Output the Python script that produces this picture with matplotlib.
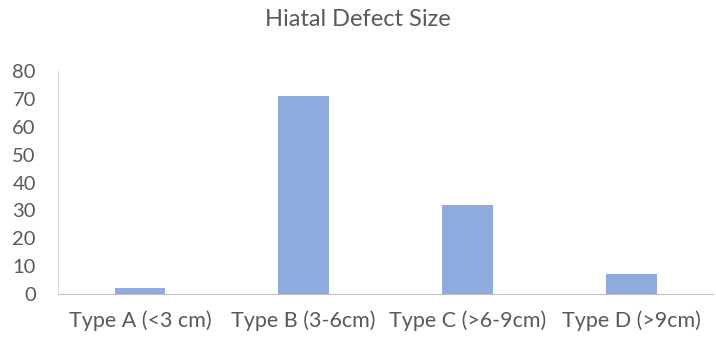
import matplotlib.pyplot as plt

categories = ['Type A (<3 cm)', 'Type B (3-6cm)', 'Type C (>6-9cm)', 'Type D (>9cm)']
values = [2, 71, 32, 7]
y_ticks = [0, 10, 20, 30, 40, 50, 60, 70, 80]

plt.rcParams['font.family'] = ['Lato', 'DejaVu Sans']
text_color = '#595959'

fig = plt.figure(figsize=(7.16, 3.45), dpi=100)
ax = fig.add_axes([0.081, 0.148, 0.915, 0.646])

ax.bar(range(len(categories)), values, width=0.31, color='#8FAADC')
ax.set_xlim(-0.5, len(categories) - 0.5)
ax.set_ylim(0, 80)
ax.set_yticks(y_ticks)
ax.set_xticks(range(len(categories)))
ax.set_xticklabels(categories)
ax.tick_params(axis='y', length=0, labelsize=14.5, colors=text_color, pad=16)
ax.tick_params(axis='x', length=0, labelsize=15.5, colors=text_color, pad=12)

for side in ['top', 'right']:
    ax.spines[side].set_visible(False)
ax.spines['left'].set_color('#D9D9D9')
ax.spines['bottom'].set_color('#BFBFBF')

fig.suptitle('Hiatal Defect Size', y=0.975, fontsize=17, color=text_color)

fig.savefig('out.png', dpi=100)
